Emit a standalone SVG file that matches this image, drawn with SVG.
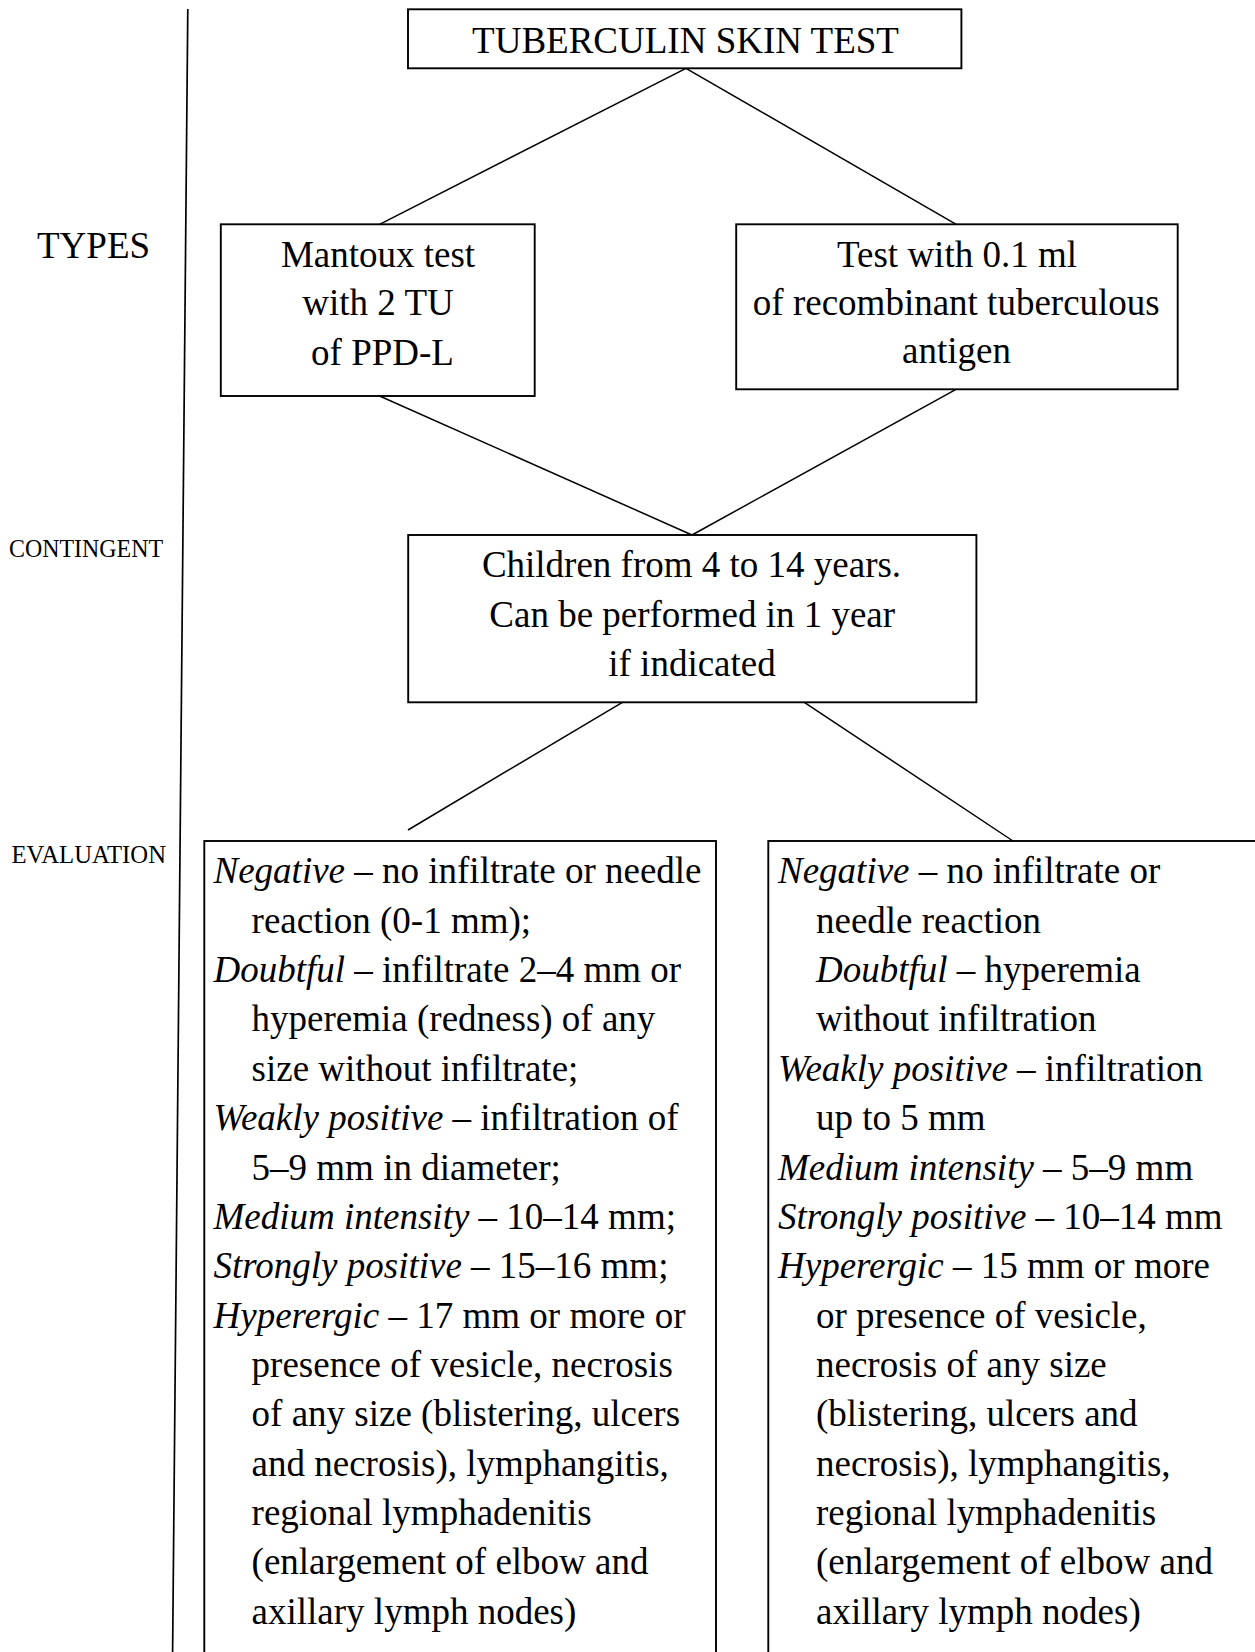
<svg xmlns="http://www.w3.org/2000/svg" width="1255" height="1652" viewBox="0 0 1255 1652">
  <style>
    .box { fill: #ffffff; stroke: #000000; stroke-width: 1.9; }
    .conn { stroke: #000000; stroke-width: 1.5; fill: none; }
    .axis { stroke: #000000; stroke-width: 1.7; fill: none; }
    text { font-family: "Liberation Serif", "Times New Roman", serif; fill: #000000; }
    .t { font-size: 37px; }
    .c { font-size: 37px; text-anchor: middle; }
    .lab { font-size: 24.3px; }
    .it { font-style: italic; }
  </style>

  <rect width="1255" height="1652" fill="#ffffff"/>

  <!-- vertical axis separating the row labels from the chart -->
  <line class="axis" x1="187.8" y1="9" x2="172.6" y2="1652"/>

  <!-- row labels -->
  <g id="row-labels">
    <text class="t" x="37" y="258">TYPES</text>
    <text class="lab" x="9" y="556.7" textLength="154" lengthAdjust="spacingAndGlyphs">CONTINGENT</text>
    <text class="lab" x="11.5" y="862.7" textLength="154.5" lengthAdjust="spacingAndGlyphs">EVALUATION</text>
  </g>

  <!-- connectors -->
  <g id="connectors">
    <line class="conn" x1="686" y1="68.3" x2="379.6" y2="224.3"/>
    <line class="conn" x1="686" y1="68.3" x2="956.2" y2="224.3"/>
    <line class="conn" x1="379.6" y1="396" x2="692" y2="535"/>
    <line class="conn" x1="956" y1="389.3" x2="692" y2="535"/>
    <line class="conn" x1="622.4" y1="702.3" x2="408" y2="830"/>
    <line class="conn" x1="804.3" y1="702.3" x2="1013" y2="841"/>
  </g>

  <!-- root node -->
  <g id="tuberculin-skin-test">
    <rect class="box" x="408" y="9.3" width="553.4" height="59"/>
    <text class="c" x="685.5" y="53.3">TUBERCULIN SKIN TEST</text>
  </g>

  <!-- test types -->
  <g id="mantoux-test">
    <rect class="box" x="220.8" y="224.3" width="313.9" height="171.7"/>
    <text class="c" x="378" y="266.7">Mantoux test</text>
    <text class="c" x="378" y="315">with 2 TU</text>
    <text class="c" x="382.5" y="365">of PPD-L</text>
  </g>

  <g id="recombinant-antigen-test">
    <rect class="box" x="736.2" y="224.3" width="441.5" height="165"/>
    <text class="c" x="957" y="266.7">Test with 0.1 ml</text>
    <text class="c" x="956.3" y="315">of recombinant tuberculous</text>
    <text class="c" x="956.5" y="363.3">antigen</text>
  </g>

  <!-- contingent -->
  <g id="contingent">
    <rect class="box" x="408.2" y="535" width="568.2" height="167.3"/>
    <text class="c" x="691.5" y="576.7">Children from 4 to 14 years.</text>
    <text class="c" x="692.2" y="626.7">Can be performed in 1 year</text>
    <text class="c" x="692" y="676">if indicated</text>
  </g>

  <!-- evaluation of the Mantoux test -->
  <g id="evaluation-mantoux">
    <rect class="box" x="204.3" y="841" width="511.7" height="830"/>
    <text class="t" x="213.5" y="883.3"><tspan class="it">Negative</tspan> – no infiltrate or needle</text>
    <text class="t" x="251.6" y="932.7">reaction (0-1 mm);</text>
    <text class="t" x="213.5" y="982"><tspan class="it">Doubtful</tspan> – infiltrate 2–4 mm or</text>
    <text class="t" x="251.6" y="1031.4">hyperemia (redness) of any</text>
    <text class="t" x="251.6" y="1080.8">size without infiltrate;</text>
    <text class="t" x="213.5" y="1130.1"><tspan class="it">Weakly positive</tspan> – infiltration of</text>
    <text class="t" x="251.6" y="1179.5">5–9 mm in diameter;</text>
    <text class="t" x="213.5" y="1228.8"><tspan class="it">Medium intensity</tspan> – 10–14 mm;</text>
    <text class="t" x="213.5" y="1278.2"><tspan class="it">Strongly positive</tspan> – 15–16 mm;</text>
    <text class="t" x="213.5" y="1327.5"><tspan class="it">Hyperergic</tspan> – 17 mm or more or</text>
    <text class="t" x="251.6" y="1376.9">presence of vesicle, necrosis</text>
    <text class="t" x="251.6" y="1426.2">of any size (blistering, ulcers</text>
    <text class="t" x="251.6" y="1475.6">and necrosis), lymphangitis,</text>
    <text class="t" x="251.6" y="1524.9">regional lymphadenitis</text>
    <text class="t" x="251.6" y="1574.3">(enlargement of elbow and</text>
    <text class="t" x="251.6" y="1623.6">axillary lymph nodes)</text>
  </g>

  <!-- evaluation of the recombinant antigen test -->
  <g id="evaluation-recombinant">
    <rect class="box" x="768.3" y="841" width="520" height="830"/>
    <text class="t" x="778" y="883.3"><tspan class="it">Negative</tspan> – no infiltrate or</text>
    <text class="t" x="816" y="932.7">needle reaction</text>
    <text class="t" x="816" y="982"><tspan class="it">Doubtful</tspan> – hyperemia</text>
    <text class="t" x="816" y="1031.4">without infiltration</text>
    <text class="t" x="778" y="1080.8"><tspan class="it">Weakly positive</tspan> – infiltration</text>
    <text class="t" x="816" y="1130.1">up to 5 mm</text>
    <text class="t" x="778" y="1179.5"><tspan class="it">Medium intensity</tspan> – 5–9 mm</text>
    <text class="t" x="778" y="1228.8"><tspan class="it">Strongly positive</tspan> – 10–14 mm</text>
    <text class="t" x="778" y="1278.2"><tspan class="it">Hyperergic</tspan> – 15 mm or more</text>
    <text class="t" x="816" y="1327.5">or presence of vesicle,</text>
    <text class="t" x="816" y="1376.9">necrosis of any size</text>
    <text class="t" x="816" y="1426.2">(blistering, ulcers and</text>
    <text class="t" x="816" y="1475.6">necrosis), lymphangitis,</text>
    <text class="t" x="816" y="1524.9">regional lymphadenitis</text>
    <text class="t" x="816" y="1574.3">(enlargement of elbow and</text>
    <text class="t" x="816" y="1623.6">axillary lymph nodes)</text>
  </g>
</svg>
